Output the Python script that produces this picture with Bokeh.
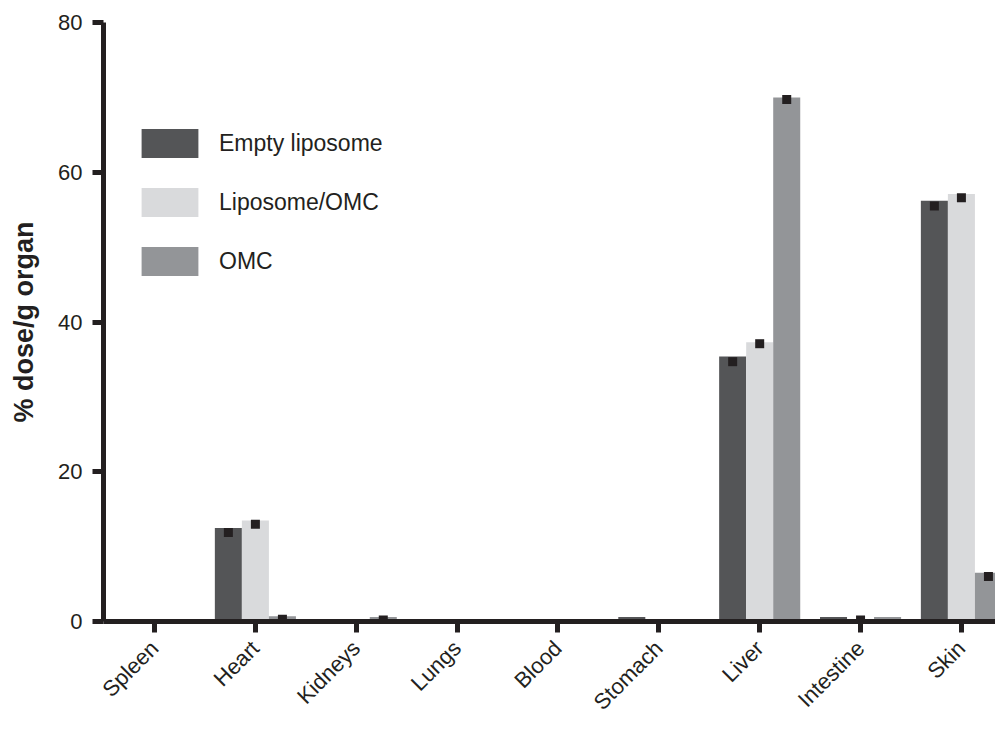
import math
from bokeh.plotting import figure
from bokeh.models import (ColumnDataSource, Range1d, FixedTicker, Legend, LegendItem)
from bokeh.embed import file_html
from bokeh.resources import INLINE

# ---- data ----
categories = ["Spleen", "Heart", "Kidneys", "Lungs", "Blood", "Stomach", "Liver", "Intestine", "Skin"]
empty_liposome = [0, 12.5, 0, 0, 0, 0.6, 35.4, 0.6, 56.2]
liposome_omc = [0, 13.5, 0, 0, 0, 0, 37.3, 0.3, 57.1]
omc = [0, 0.7, 0.6, 0, 0, 0, 70.0, 0.6, 6.5]
nan = float("nan")
empty_liposome_pt = [nan, 11.9, nan, nan, nan, nan, 34.7, nan, 55.5]
liposome_omc_pt = [nan, 13.0, nan, nan, nan, nan, 37.1, 0.2, 56.6]
omc_pt = [nan, 0.3, 0.2, nan, nan, nan, 69.7, nan, 6.0]
series_names = ["Empty liposome", "Liposome/OMC", "OMC"]
y_ticks = [0, 20, 40, 60, 80]

colors = ["#545557", "#d9dadc", "#939598"]
ink = "#231f20"
FONT = "Liberation Sans"

bar_w = 0.268
offsets = [-bar_w, 0.0, bar_w]

p = figure(width=995, height=726, output_backend="svg", toolbar_location=None,
           x_range=Range1d(-0.506, 8.338), y_range=Range1d(0, 80),
           min_border_left=103, min_border_right=0, min_border_top=22, min_border_bottom=105)
p.grid.visible = False
p.outline_line_color = None
p.background_fill_color = "white"

idx = list(range(len(categories)))
renderers = []
for vals, pts, off, col in zip([empty_liposome, liposome_omc, omc],
                               [empty_liposome_pt, liposome_omc_pt, omc_pt],
                               offsets, colors):
    src = ColumnDataSource(dict(x=[i + off for i in idx], top=vals, pt=pts))
    r = p.vbar(x="x", top="top", bottom=0, width=bar_w, source=src,
               fill_color=col, line_color=None)
    renderers.append(r)
    p.scatter(x="x", y="pt", source=src, marker="square", size=9,
              fill_color=ink, line_color=None)

# axes
for ax in (p.xaxis[0], p.yaxis[0]):
    ax.axis_line_color = ink
    ax.axis_line_width = 5
    ax.major_tick_line_color = ink
    ax.major_tick_line_width = 5
    ax.major_tick_in = 0
    ax.major_tick_out = 11
    ax.minor_tick_line_color = None
    ax.major_label_text_font = FONT
    ax.major_label_text_font_size = "22px"
    ax.major_label_text_color = ink

p.xaxis.ticker = FixedTicker(ticks=idx)
p.xaxis.major_label_overrides = {i: c for i, c in zip(idx, categories)}
p.xaxis.major_label_orientation = math.pi / 4
p.xaxis.major_label_standoff = 12
p.xaxis.axis_label_standoff = 0

p.yaxis.ticker = FixedTicker(ticks=y_ticks)
p.yaxis.major_label_standoff = 10
p.yaxis.axis_label = "% dose/g organ"
p.yaxis.axis_label_text_font = FONT
p.yaxis.axis_label_text_font_style = "bold"
p.yaxis.axis_label_text_font_size = "27px"
p.yaxis.axis_label_text_color = ink
p.yaxis.axis_label_standoff = 16

legend = Legend(items=[LegendItem(label=n, renderers=[r]) for n, r in zip(series_names, renderers)],
                location=(31, 342), glyph_width=71, glyph_height=36, spacing=23,
                label_standoff=14, padding=0, margin=0,
                border_line_color=None, background_fill_alpha=0,
                label_text_font=FONT, label_text_font_size="23px", label_text_color=ink)
p.add_layout(legend, "center")

open("out.html", "w").write(file_html(p, INLINE))
